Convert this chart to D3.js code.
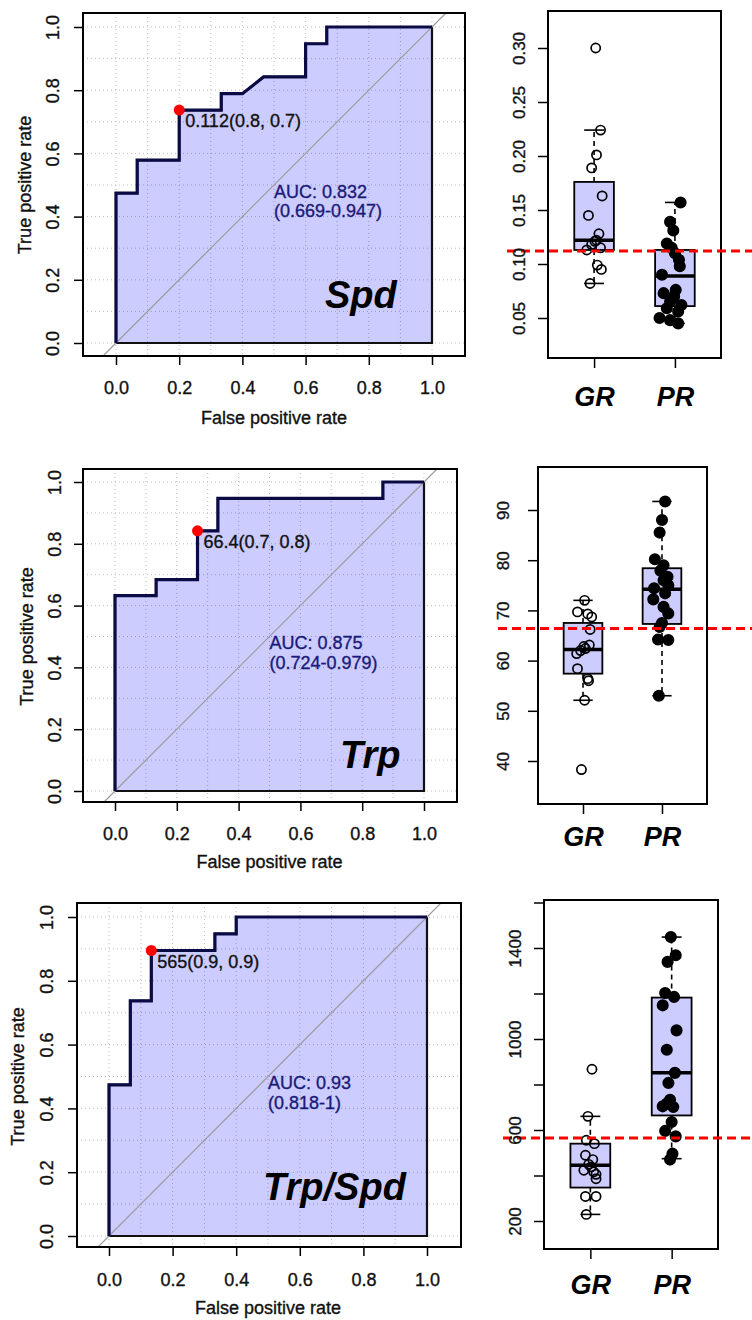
<!DOCTYPE html>
<html>
<head>
<meta charset="utf-8">
<script src="https://cdn.jsdelivr.net/npm/d3@7"></script>
<style>
  body { margin: 0; background: #fff; }
  text { font-family: "Liberation Sans", Arial, sans-serif; }
  .heavy { stroke-width: 0.35px; }
</style>
</head>
<body>
<svg id="chart" width="752" height="1320"></svg>
<script>
// ---- ROC data (false positive rate / true positive rate steps) ----
const spdFpr = [0, 0, 0.067, 0.067, 0.2, 0.2, 0.333, 0.333, 0.4, 0.467, 0.6, 0.6, 0.667, 0.667, 1];
const spdTpr = [0, 0.474, 0.474, 0.579, 0.579, 0.737, 0.737, 0.789, 0.789, 0.842, 0.842, 0.947, 0.947, 1, 1];
const trpFpr = [0, 0, 0.133, 0.133, 0.267, 0.267, 0.333, 0.333, 0.867, 0.867, 1];
const trpTpr = [0, 0.632, 0.632, 0.684, 0.684, 0.842, 0.842, 0.947, 0.947, 1, 1];
const ratioFpr = [0, 0, 0.067, 0.067, 0.133, 0.133, 0.333, 0.333, 0.4, 0.4, 1];
const ratioTpr = [0, 0.474, 0.474, 0.737, 0.737, 0.895, 0.895, 0.947, 0.947, 1, 1];

// best threshold point [fpr, tpr] and its label
const spdBest = [0.2, 0.737];
const trpBest = [0.267, 0.842];
const ratioBest = [0.133, 0.895];
const bestLabels = ["0.112(0.8, 0.7)", "66.4(0.7, 0.8)", "565(0.9, 0.9)"];
const aucLabels = [
  ["AUC: 0.832", "(0.669-0.947)"],
  ["AUC: 0.875", "(0.724-0.979)"],
  ["AUC: 0.93", "(0.818-1)"]
];
const markerNames = ["Spd", "Trp", "Trp/Spd"];
const rocTicks = [0, 0.2, 0.4, 0.6, 0.8, 1.0];
const gridTicks = d3.range(0, 11).map((i) => i / 10);

// ---- boxplot data ----
const groups = ["GR", "PR"];
const thresholds = [0.112, 66.4, 565];

// values with jitter (in group-step units)
const spdGR = [0.300, 0.224, 0.201, 0.189, 0.163, 0.145, 0.128, 0.122, 0.121, 0.118, 0.115, 0.113, 0.099, 0.095, 0.082];
const spdGRJit = [0.02, 0.08, 0.03, -0.03, 0.10, -0.07, 0.06, 0.03, 0.01, -0.03, 0.08, -0.09, 0.04, 0.09, -0.05];
const spdPR = [0.157, 0.139, 0.131, 0.119, 0.115, 0.110, 0.104, 0.098, 0.090, 0.076, 0.073, 0.070, 0.065, 0.062, 0.059, 0.056, 0.050, 0.048, 0.045];
const spdPRJit = [0.07, -0.06, -0.02, -0.10, -0.04, 0, 0.05, 0.06, -0.16, 0.01, -0.14, -0.01, -0.06, 0.08, -0.10, 0.04, -0.19, -0.06, 0.04];
const trpGR = [72.0, 69.7, 69.3, 68.7, 66.2, 63.1, 62.8, 62.4, 62.0, 61.4, 58.4, 56.4, 56.0, 52.1, 38.3];
const trpGRJit = [0.02, -0.07, 0.06, 0.11, 0.09, 0.08, 0.01, 0.03, -0.03, -0.08, -0.07, 0.06, 0.07, 0.02, -0.02];
const trpPR = [91.7, 88.0, 85.5, 80.2, 79.0, 77.9, 76.7, 76.0, 75.0, 74.4, 73.4, 72.2, 70.7, 69.4, 67.5, 66.7, 64.2, 64.1, 53.0];
const trpPRJit = [0.04, 0, -0.03, -0.09, 0.02, -0.02, 0.07, 0.02, 0.08, -0.10, 0.04, -0.11, 0.02, 0.08, 0, -0.03, -0.05, 0.08, -0.04];
const ratioGR = [867, 660, 555, 540, 489, 470, 449, 438, 423, 416, 405, 386, 308, 308, 229];
const ratioGRJit = [0.02, -0.03, -0.05, 0.05, -0.06, 0.03, -0.02, 0.01, -0.08, 0.04, 0.07, 0.07, -0.06, 0.07, -0.05];
const ratioPR = [1448, 1368, 1339, 1202, 1185, 1148, 1038, 953, 851, 807, 733, 716, 704, 701, 635, 596, 572, 496, 470];
const ratioPRJit = [-0.01, 0.05, -0.05, -0.08, 0.03, -0.11, 0.06, -0.06, 0.04, -0.04, -0.02, -0.06, -0.11, 0.02, 0, -0.08, 0.05, 0.01, -0.02];

// box stats [lower whisker, Q1, median, Q3, upper whisker]
const spdStats = [[0.082, 0.113, 0.122, 0.176, 0.224], [0.045, 0.061, 0.089, 0.113, 0.157]];
const trpStats = [[52.1, 57.4, 62.2, 67.5, 72.0], [53.0, 67.3, 74.2, 78.4, 91.7]];
const ratioStats = [[229, 347, 445, 540, 660], [474, 664, 852, 1182, 1448]];

const spdTicks = [0.05, 0.10, 0.15, 0.20, 0.25, 0.30];
const trpTicks = [40, 50, 60, 70, 80, 90];
const ratioTicks = [200, 400, 600, 800, 1000, 1200, 1400, 1600];
const ratioTickLabels = ["200", "", "600", "", "1000", "", "1400", ""];

const svg = d3.select("#chart");
const fillBlue = "rgba(0,0,255,0.2)";

// thicken plain text a little, the reference is rendered heavy
const heavy = (sel, color) =>
  sel.attr("class", "heavy").attr("fill", color).attr("stroke", color);

function drawRoc(idx, fpr, tpr, best, lay) {
  const x = d3.scaleLinear().domain([0, 1]).range([lay.x0, lay.x1]);
  const y = d3.scaleLinear().domain([0, 1]).range([lay.y0, lay.y1]);
  const b = lay.box;
  const g = svg.append("g");

  const clipId = "rocclip" + idx;
  g.append("clipPath").attr("id", clipId)
    .append("rect")
    .attr("x", b[0]).attr("y", b[2])
    .attr("width", b[1] - b[0]).attr("height", b[3] - b[2]);

  // dotted grid
  const grid = g.append("g").attr("clip-path", `url(#${clipId})`);
  grid.selectAll(".vg").data(gridTicks).join("line")
    .attr("x1", (d) => x(d)).attr("x2", (d) => x(d))
    .attr("y1", b[2]).attr("y2", b[3]);
  grid.selectAll(".hg").data(gridTicks).join("line")
    .attr("y1", (d) => y(d)).attr("y2", (d) => y(d))
    .attr("x1", b[0]).attr("x2", b[1]);
  grid.selectAll("line")
    .attr("stroke", "#bdbdbd")
    .attr("stroke-width", 1)
    .attr("stroke-dasharray", "1,3");

  // area under curve
  const pts = fpr.map((f, i) => [f, tpr[i]]).concat([[1, 0]]);
  const line = d3.line().x((d) => x(d[0])).y((d) => y(d[1]));
  g.append("path")
    .attr("d", line(pts) + "Z")
    .attr("fill", fillBlue)
    .attr("stroke", "#111")
    .attr("stroke-width", 2.2);

  // chance diagonal
  g.append("line")
    .attr("clip-path", `url(#${clipId})`)
    .attr("x1", x(-0.5)).attr("y1", y(-0.5))
    .attr("x2", x(1.5)).attr("y2", y(1.5))
    .attr("stroke", "#9a9a9a")
    .attr("stroke-width", 1.2);

  // roc curve
  g.append("path")
    .attr("d", line(fpr.map((f, i) => [f, tpr[i]])))
    .attr("fill", "none")
    .attr("stroke", "#0a0a44")
    .attr("stroke-width", 3.2);

  // plot frame
  g.append("rect")
    .attr("x", b[0]).attr("y", b[2])
    .attr("width", b[1] - b[0]).attr("height", b[3] - b[2])
    .attr("fill", "none")
    .attr("stroke", "#000")
    .attr("stroke-width", 2);

  // axes
  const xAxis = g.append("g")
    .attr("transform", `translate(0,${b[3]})`)
    .call(d3.axisBottom(x).tickValues(rocTicks).tickFormat(d3.format(".1f")).tickSize(9));
  xAxis.attr("font-family", null);
  xAxis.select(".domain").remove();
  xAxis.selectAll("line").attr("stroke", "#000").attr("stroke-width", 1.5);
  heavy(xAxis.selectAll("text"), "#111")
    .attr("y", lay.xLabDy).attr("dy", "0.35em")
    .attr("font-size", 18);

  const yAxis = g.append("g")
    .attr("transform", `translate(${b[0]},0)`)
    .call(d3.axisLeft(y).tickValues(rocTicks).tickFormat(d3.format(".1f")).tickSize(9));
  yAxis.attr("font-family", null);
  yAxis.select(".domain").remove();
  yAxis.selectAll("line").attr("stroke", "#000").attr("stroke-width", 1.5);
  heavy(yAxis.selectAll("text"), "#111")
    .attr("x", null).attr("dy", "0.35em")
    .attr("text-anchor", "middle")
    .attr("transform", `translate(${-lay.yLabDx},0) rotate(-90)`)
    .attr("font-size", 18);

  // axis titles
  heavy(g.append("text"), "#111")
    .attr("x", (x(0) + x(1)) / 2).attr("y", b[3] + lay.xTitleDy)
    .attr("dy", "0.35em")
    .attr("text-anchor", "middle")
    .attr("font-size", 18)
    .text("False positive rate");
  heavy(g.append("text"), "#111")
    .attr("transform", `translate(${b[0] - lay.yTitleDx},${(y(0) + y(1)) / 2}) rotate(-90)`)
    .attr("dy", "0.35em")
    .attr("text-anchor", "middle")
    .attr("font-size", 18)
    .text("True positive rate");

  // best threshold
  g.append("circle")
    .attr("cx", x(best[0])).attr("cy", y(best[1]))
    .attr("r", 5.5)
    .attr("fill", "#ff0000");
  heavy(g.append("text"), "#111")
    .attr("x", x(best[0]) + 6).attr("y", y(best[1]) + 11)
    .attr("dy", "0.35em")
    .attr("font-size", 18)
    .text(bestLabels[idx]);

  // auc
  const auc = heavy(g.append("text"), "#1a1a78")
    .attr("x", x(0.5)).attr("y", y(0.48))
    .attr("font-size", 18);
  auc.selectAll("tspan").data(aucLabels[idx]).join("tspan")
    .attr("x", x(0.5))
    .attr("dy", (d, i) => (i === 0 ? "0.35em" : "1.1em"))
    .text((d) => d);

  // marker name
  g.append("text")
    .attr("x", lay.nameX).attr("y", lay.nameY)
    .attr("font-size", 38)
    .attr("font-weight", "bold")
    .attr("font-style", "italic")
    .attr("fill", "#000")
    .text(markerNames[idx]);
}

function drawBox(idx, values, jitters, stats, ticks, tickLabels, lay) {
  const b = lay.box;
  const y = d3.scaleLinear().domain(lay.dom).range(lay.rng);
  const x = d3.scalePoint().domain(groups).range([b[0], b[1]]).padding(0.57);
  const step = x.step();
  const bw = step * 0.49;
  const g = svg.append("g");

  groups.forEach((grp, gi) => {
    const s = stats[gi];
    const cx = x(grp);
    // whiskers
    g.append("line")
      .attr("x1", cx).attr("x2", cx).attr("y1", y(s[3])).attr("y2", y(s[4]))
      .attr("stroke", "#000").attr("stroke-width", 1.6).attr("stroke-dasharray", "5,4");
    g.append("line")
      .attr("x1", cx).attr("x2", cx).attr("y1", y(s[1])).attr("y2", y(s[0]))
      .attr("stroke", "#000").attr("stroke-width", 1.6).attr("stroke-dasharray", "5,4");
    [s[0], s[4]].forEach((v) => {
      g.append("line")
        .attr("x1", cx - bw / 4).attr("x2", cx + bw / 4)
        .attr("y1", y(v)).attr("y2", y(v))
        .attr("stroke", "#000").attr("stroke-width", 1.6);
    });
    // box
    g.append("rect")
      .attr("x", cx - bw / 2).attr("width", bw)
      .attr("y", y(s[3])).attr("height", y(s[1]) - y(s[3]))
      .attr("fill", fillBlue)
      .attr("stroke", "#000").attr("stroke-width", 1.8);
    g.append("line")
      .attr("x1", cx - bw / 2).attr("x2", cx + bw / 2)
      .attr("y1", y(s[2])).attr("y2", y(s[2]))
      .attr("stroke", "#000").attr("stroke-width", 3.5);

    // points
    g.append("g").selectAll("circle")
      .data(values[gi].map((v, i) => [v, jitters[gi][i]]))
      .join("circle")
      .attr("cx", (d) => cx + d[1] * step)
      .attr("cy", (d) => y(d[0]))
      .attr("r", gi === 0 ? 4.6 : 5.2)
      .attr("fill", gi === 0 ? "none" : "#000")
      .attr("stroke", "#000")
      .attr("stroke-width", 1.7);
  });

  // frame
  g.append("rect")
    .attr("x", b[0]).attr("y", b[2])
    .attr("width", b[1] - b[0]).attr("height", b[3] - b[2])
    .attr("fill", "none")
    .attr("stroke", "#000")
    .attr("stroke-width", 2);

  // threshold line
  g.append("line")
    .attr("x1", lay.cutX0).attr("x2", 752)
    .attr("y1", y(thresholds[idx])).attr("y2", y(thresholds[idx]))
    .attr("stroke", "#ff0000")
    .attr("stroke-width", 3)
    .attr("stroke-dasharray", "9,5");

  // axes
  const yAxis = g.append("g")
    .attr("transform", `translate(${b[0]},0)`)
    .call(d3.axisLeft(y).tickValues(ticks).tickFormat((d, i) => tickLabels[i]).tickSize(10));
  yAxis.attr("font-family", null);
  yAxis.select(".domain").remove();
  yAxis.selectAll("line").attr("stroke", "#000").attr("stroke-width", 1.5);
  heavy(yAxis.selectAll("text"), "#111")
    .attr("x", null).attr("dy", "0.35em")
    .attr("text-anchor", "middle")
    .attr("transform", `translate(${-lay.yLabDx},0) rotate(-90)`)
    .attr("font-size", 17);

  const xAxis = g.append("g")
    .attr("transform", `translate(0,${b[3]})`)
    .call(d3.axisBottom(x).tickSize(10));
  xAxis.attr("font-family", null);
  xAxis.select(".domain").remove();
  xAxis.selectAll("line").attr("stroke", "#000").attr("stroke-width", 1.5);
  xAxis.selectAll("text")
    .attr("y", lay.xLabDy).attr("dy", "0.35em")
    .attr("font-size", 27)
    .attr("font-weight", "bold")
    .attr("font-style", "italic")
    .attr("fill", "#000");
}

drawRoc(0, spdFpr, spdTpr, spdBest, {
  x0: 116, x1: 432, y0: 343, y1: 27, box: [83, 465, 13, 356],
  xLabDy: 32, xTitleDy: 62, yLabDx: 30, yTitleDx: 58, nameX: 325, nameY: 308
});
drawRoc(1, trpFpr, trpTpr, trpBest, {
  x0: 115, x1: 424, y0: 791, y1: 482, box: [83, 457, 469, 802],
  xLabDy: 32, xTitleDy: 60, yLabDx: 28, yTitleDx: 56, nameX: 340, nameY: 768
});
drawRoc(2, ratioFpr, ratioTpr, ratioBest, {
  x0: 109, x1: 427, y0: 1236, y1: 917, box: [77, 461, 903, 1247],
  xLabDy: 33, xTitleDy: 61, yLabDx: 30, yTitleDx: 59, nameX: 263, nameY: 1200
});

drawBox(0, [spdGR, spdPR], [spdGRJit, spdPRJit], spdStats, spdTicks,
  spdTicks.map(d3.format(".2f")), {
  box: [548, 721, 11, 358], dom: [0.05, 0.30], rng: [318, 48],
  yLabDx: 29, xLabDy: 39, cutX0: 507
});
drawBox(1, [trpGR, trpPR], [trpGRJit, trpPRJit], trpStats, trpTicks,
  trpTicks.map(String), {
  box: [538, 707, 467, 804], dom: [40, 90], rng: [761, 510],
  yLabDx: 35, xLabDy: 33, cutX0: 498
});
drawBox(2, [ratioGR, ratioPR], [ratioGRJit, ratioPRJit], ratioStats, ratioTicks,
  ratioTickLabels, {
  box: [544, 718, 900, 1249], dom: [200, 1400], rng: [1221, 948],
  yLabDx: 29, xLabDy: 36, cutX0: 503
});
</script>
</body>
</html>
